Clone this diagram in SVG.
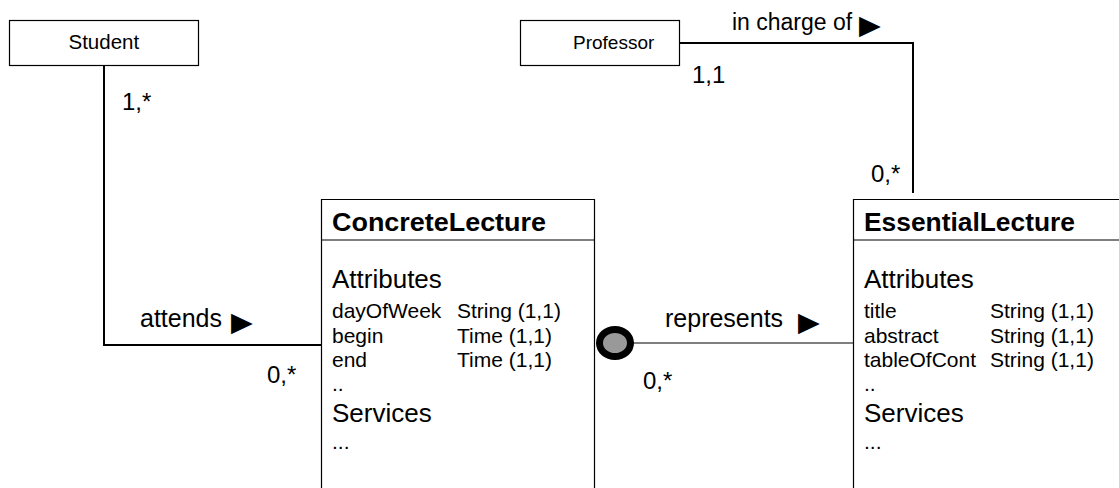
<svg xmlns="http://www.w3.org/2000/svg" width="1119" height="488" viewBox="0 0 1119 488">
<style>
text{font-family:"Liberation Sans",Arial,sans-serif;fill:#000}
.box{fill:#fff;stroke:#000;stroke-width:1.2}
.edge{fill:none;stroke:#000;stroke-width:1.2}
.conn{fill:none;stroke:#000;stroke-width:2}
.thin{fill:none;stroke:#555;stroke-width:1.5}
.nm{font-size:20px}
.lbl{font-size:25px}
.tri{font-family:"DejaVu Sans",sans-serif;font-size:27px}
.mul{font-size:24px}
.ttl{font-size:26px;font-weight:bold}
.sec{font-size:26px}
.row{font-size:21px}
</style>
<g id="connectors">
<polyline class="conn" points="104,65 104,345 321,345"/>
<polyline class="conn" points="679,43 913,43 913,193"/>
<line class="thin" x1="630" y1="343" x2="853" y2="343"/>
<ellipse cx="615" cy="343" rx="15.5" ry="13.5" fill="#999" stroke="#000" stroke-width="7"/>
<text class="lbl" x="140" y="327">attends</text>
<text class="tri" transform="translate(231 331) scale(1.05 1)">▶</text>
<text class="mul" x="122" y="110">1,*</text>
<text class="mul" x="267" y="383">0,*</text>
<text class="lbl" x="665" y="327">represents</text>
<text class="tri" transform="translate(798 331) scale(1.05 1)">▶</text>
<text class="mul" x="643" y="389">0,*</text>
<text class="lbl" style="font-size:23px" x="732" y="30">in charge of</text>
<text class="tri" transform="translate(859 34) scale(1.05 1)">▶</text>
<text class="mul" x="692" y="83">1,1</text>
<text class="mul" x="871" y="182">0,*</text>
</g>
<g id="student">
<rect class="box" x="9.5" y="20.5" width="189" height="45"/>
<text class="nm" x="68.5" y="49" style="font-size:20.5px">Student</text>
</g>
<g id="professor">
<rect class="box" x="520.5" y="20.5" width="159" height="45"/>
<text class="nm" x="573" y="49" style="font-size:19px">Professor</text>
</g>
<g id="concrete-lecture">
<path class="edge" d="M321.5,488V199.5H594.5V488M321.5,240H594.5"/>
<text class="ttl" x="332" y="231" textLength="214" lengthAdjust="spacingAndGlyphs">ConcreteLecture</text>
<text class="sec" x="332" y="288">Attributes</text>
<text class="row" x="332" y="317.5">dayOfWeek</text>
<text class="row" x="457" y="317.5">String (1,1)</text>
<text class="row" x="332" y="342.5">begin</text>
<text class="row" x="457" y="342.5">Time (1,1)</text>
<text class="row" x="332" y="367">end</text>
<text class="row" x="457" y="367">Time (1,1)</text>
<text class="row" x="332" y="391">..</text>
<text class="sec" x="332" y="422">Services</text>
<text class="row" x="332" y="449">...</text>
</g>
<g id="essential-lecture">
<path class="edge" d="M1119,199.5H853.5V488M853.5,240H1119"/>
<text class="ttl" x="864" y="231" textLength="211" lengthAdjust="spacingAndGlyphs">EssentialLecture</text>
<text class="sec" x="864" y="288">Attributes</text>
<text class="row" x="864" y="317.5">title</text>
<text class="row" x="990" y="317.5">String (1,1)</text>
<text class="row" x="864" y="342.5">abstract</text>
<text class="row" x="990" y="342.5">String (1,1)</text>
<text class="row" x="864" y="367">tableOfCont</text>
<text class="row" x="990" y="367">String (1,1)</text>
<text class="row" x="864" y="391">..</text>
<text class="sec" x="864" y="422">Services</text>
<text class="row" x="864" y="449">...</text>
</g>
</svg>
